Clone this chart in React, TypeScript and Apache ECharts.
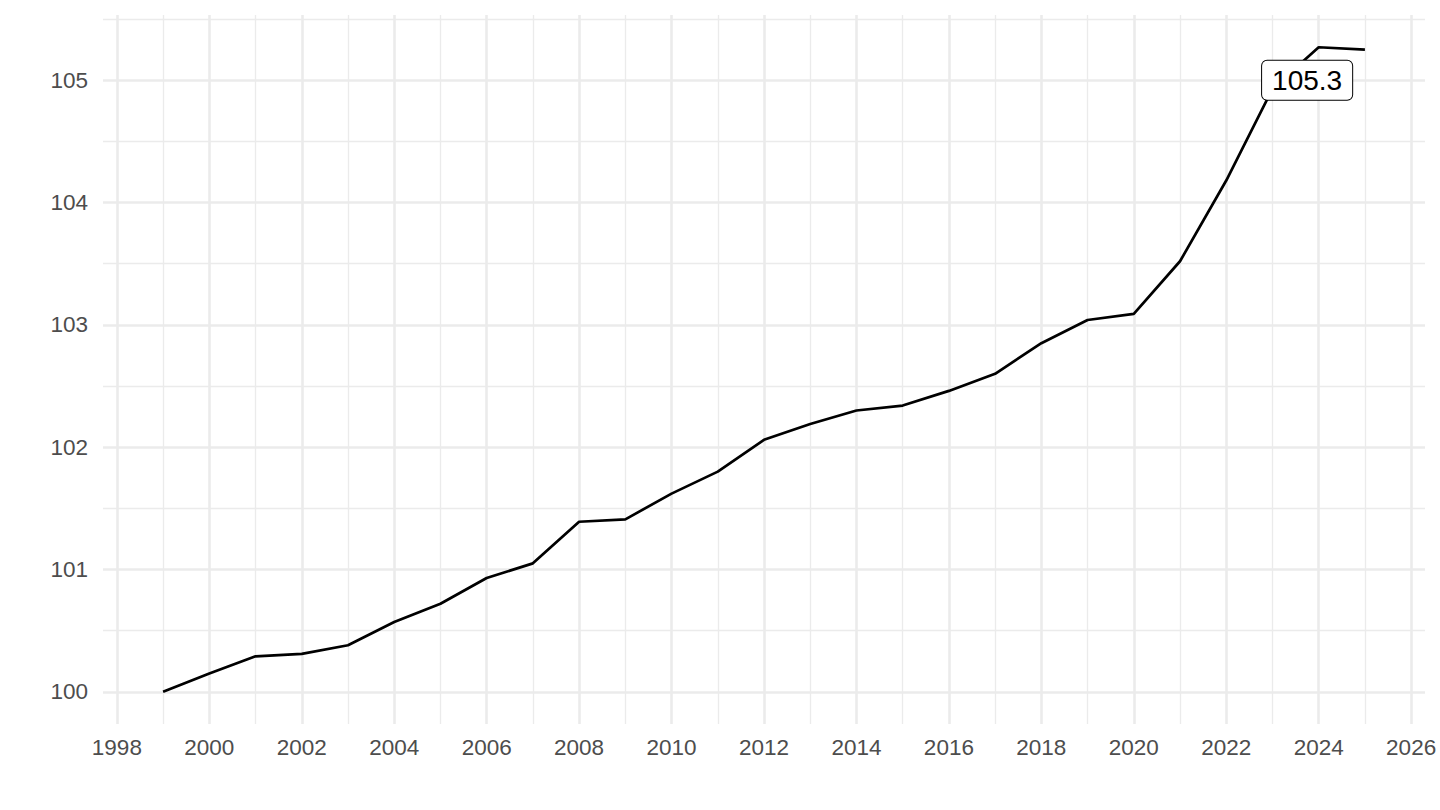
import React, { useEffect, useRef } from "react";
import * as echarts from "echarts";

const years = [
  1999, 2000, 2001, 2002, 2003, 2004, 2005, 2006, 2007, 2008, 2009, 2010, 2011,
  2012, 2013, 2014, 2015, 2016, 2017, 2018, 2019, 2020, 2021, 2022, 2023, 2024,
  2025,
];
const values = [
  100.0, 100.15, 100.29, 100.31, 100.38, 100.57, 100.72, 100.93, 101.05,
  101.39, 101.41, 101.62, 101.8, 102.06, 102.19, 102.3, 102.34, 102.46, 102.6,
  102.85, 103.04, 103.09, 103.52, 104.18, 104.93, 105.27, 105.25,
];
const xMajorTicks = [
  1998, 2000, 2002, 2004, 2006, 2008, 2010, 2012, 2014, 2016, 2018, 2020, 2022,
  2024, 2026,
];
const xMinorTicks = [
  1999, 2001, 2003, 2005, 2007, 2009, 2011, 2013, 2015, 2017, 2019, 2021, 2023,
  2025,
];
const yMajorTicks = [100, 101, 102, 103, 104, 105];
const yMinorTicks = [100.5, 101.5, 102.5, 103.5, 104.5, 105.5];
const labelAnchor = [2023.75, 105.0];

const FONT = "'Liberation Sans', Arial, Helvetica, sans-serif";
const GRID_COLOR = "#EBEBEB";

function expand(arr: number[]) {
  const lo = Math.min(...arr);
  const hi = Math.max(...arr);
  const pad = (hi - lo) * 0.05;
  return [lo - pad, hi + pad];
}

export default function App() {
  const ref = useRef<HTMLDivElement>(null);

  useEffect(() => {
    if (!ref.current) return;
    const chart = echarts.init(ref.current, null, { renderer: "svg" });
    const [xMin, xMax] = expand(years);
    const [yMin, yMax] = expand(values);
    const maxVal = Math.max(...values);

    const axisText = {
      color: "#4D4D4D",
      fontSize: 22.5,
      fontFamily: FONT,
    };

    chart.setOption({
      animation: false,
      backgroundColor: "#ffffff",
      grid: { left: 103, right: 15, top: 15, bottom: 86 },
      xAxis: [
        {
          type: "value",
          min: xMin,
          max: xMax,
          axisLine: { show: false },
          axisTick: { show: false, customValues: xMajorTicks },
          axisLabel: {
            ...axisText,
            customValues: xMajorTicks,
            margin: 12,
            formatter: (v: number) => String(v),
          },
          splitLine: {
            show: true,
            lineStyle: { color: GRID_COLOR, width: 2.6 },
          },
        },
        {
          type: "value",
          min: xMin,
          max: xMax,
          axisLine: { show: false },
          axisTick: { show: false, customValues: xMinorTicks },
          axisLabel: { show: false },
          splitLine: {
            show: true,
            lineStyle: { color: GRID_COLOR, width: 1.3 },
          },
        },
      ],
      yAxis: [
        {
          type: "value",
          min: yMin,
          max: yMax,
          axisLine: { show: false },
          axisTick: { show: false, customValues: yMajorTicks },
          axisLabel: {
            ...axisText,
            customValues: yMajorTicks,
            margin: 15,
            formatter: (v: number) => String(v),
          },
          splitLine: {
            show: true,
            lineStyle: { color: GRID_COLOR, width: 2.6 },
          },
        },
        {
          type: "value",
          min: yMin,
          max: yMax,
          axisLine: { show: false },
          axisTick: { show: false, customValues: yMinorTicks },
          axisLabel: { show: false },
          splitLine: {
            show: true,
            lineStyle: { color: GRID_COLOR, width: 1.3 },
          },
        },
      ],
      series: [
        {
          type: "line",
          xAxisIndex: 0,
          yAxisIndex: 0,
          data: years.map((y, i) => [y, values[i]]),
          showSymbol: false,
          symbol: "none",
          silent: true,
          lineStyle: { color: "#000000", width: 2.7 },
          markPoint: {
            silent: true,
            symbol: "circle",
            symbolSize: 0,
            data: [{ coord: labelAnchor }],
            label: {
              show: true,
              position: "inside",
              formatter: maxVal.toFixed(1),
              color: "#000000",
              fontSize: 28,
              fontFamily: FONT,
              backgroundColor: "#ffffff",
              borderColor: "#000000",
              borderWidth: 1,
              borderRadius: 5,
              padding: [6, 10, 5, 10],
            },
          },
        },
      ],
    });

    return () => chart.dispose();
  }, []);

  return (
    <div
      ref={ref}
      style={{
        position: "fixed",
        left: 0,
        top: 0,
        width: 1440,
        height: 810,
        background: "#ffffff",
      }}
    />
  );
}
